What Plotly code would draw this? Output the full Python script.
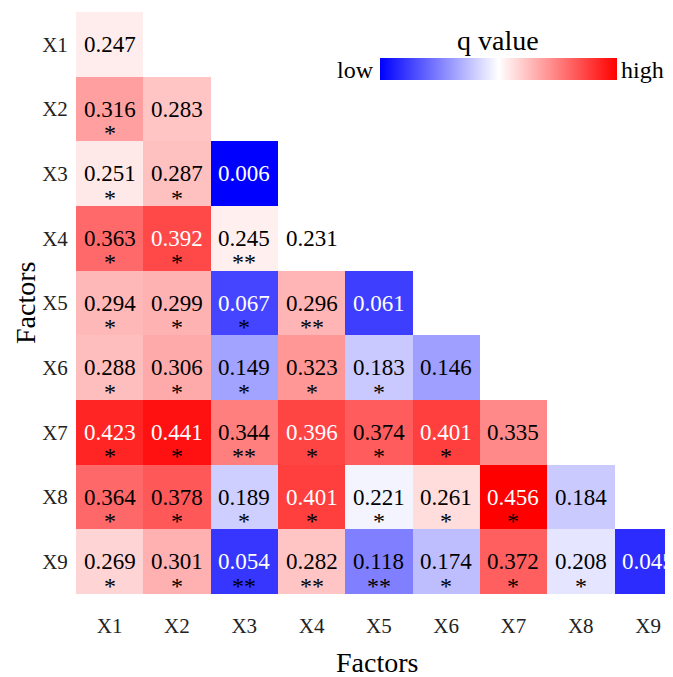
import plotly.graph_objects as go

factors = ["X1", "X2", "X3", "X4", "X5", "X6", "X7", "X8", "X9"]

row_X1 = [0.247]
row_X2 = [0.316, 0.283]
row_X3 = [0.251, 0.287, 0.006]
row_X4 = [0.363, 0.392, 0.245, 0.231]
row_X5 = [0.294, 0.299, 0.067, 0.296, 0.061]
row_X6 = [0.288, 0.306, 0.149, 0.323, 0.183, 0.146]
row_X7 = [0.423, 0.441, 0.344, 0.396, 0.374, 0.401, 0.335]
row_X8 = [0.364, 0.378, 0.189, 0.401, 0.221, 0.261, 0.456, 0.184]
row_X9 = [0.269, 0.301, 0.054, 0.282, 0.118, 0.174, 0.372, 0.208, 0.045]

sig_X1 = [""]
sig_X2 = ["*", ""]
sig_X3 = ["*", "*", ""]
sig_X4 = ["*", "*", "**", ""]
sig_X5 = ["*", "*", "*", "**", ""]
sig_X6 = ["*", "*", "*", "*", "*", ""]
sig_X7 = ["*", "*", "**", "*", "*", "*", ""]
sig_X8 = ["*", "*", "*", "*", "*", "*", "*", ""]
sig_X9 = ["*", "*", "**", "**", "**", "*", "*", "*", ""]

rows = [row_X1, row_X2, row_X3, row_X4, row_X5, row_X6, row_X7, row_X8, row_X9]
sigs = [sig_X1, sig_X2, sig_X3, sig_X4, sig_X5, sig_X6, sig_X7, sig_X8, sig_X9]

n = len(factors)
z = [r + [None] * (n - len(r)) for r in rows]
allv = [v for r in rows for v in r]
zmin, zmax = min(allv), max(allv)

# page body has an 8px margin; figure sized to fit the 673x677 window
OFF = 8
W, H = 673 - OFF, 677 - OFF
ml, mt, mb, mr = 76 - OFF, 12 - OFF, 83, 0
pw = W - ml - mr
ph = H - mt - mb
bottom = mt + ph  # figure px of plot bottom


def px(xs):  # screenshot x -> paper x
    return (xs - OFF - ml) / pw


def py(ys):  # screenshot y -> paper y
    return (bottom - (ys - OFF)) / ph


fig = go.Figure()
fig.add_trace(go.Heatmap(
    z=z, x=factors, y=factors,
    zmin=zmin, zmax=zmax,
    colorscale=[[0, "rgb(0,0,255)"], [0.5, "rgb(255,255,255)"], [1, "rgb(255,0,0)"]],
    hoverongaps=False,
    colorbar=dict(
        orientation="h",
        x=px(380), xanchor="left",
        y=py(58), yanchor="top",
        len=237, lenmode="pixels",
        thickness=22, thicknessmode="pixels",
        outlinewidth=0, showticklabels=False, ticks="",
        xpad=0, ypad=0,
    ),
))

serif = "Liberation Serif, Times New Roman, serif"
annotations = []
for i, (r, s) in enumerate(zip(rows, sigs)):
    for j, (v, st) in enumerate(zip(r, s)):
        col = "white" if (v >= 0.39 or v <= 0.07) else "black"
        annotations.append(dict(x=factors[j], y=factors[i], text=f"{v:.3f}",
                                showarrow=False, font=dict(family=serif, size=23, color=col)))
        if st:
            annotations.append(dict(x=factors[j], y=factors[i], text=st, yshift=-24,
                                    showarrow=False, font=dict(family=serif, size=24, color="black")))

# colorbar labels
annotations.append(dict(xref="paper", yref="paper", x=px(498), y=py(40),
                        xanchor="center", yanchor="middle",
                        text="q value", showarrow=False, font=dict(family=serif, size=28, color="black")))
annotations.append(dict(xref="paper", yref="paper", x=px(376), y=py(70),
                        xanchor="right", yanchor="middle", text="low", showarrow=False,
                        font=dict(family=serif, size=24, color="black")))
annotations.append(dict(xref="paper", yref="paper", x=px(619), y=py(70),
                        xanchor="left", yanchor="middle", text="high", showarrow=False,
                        font=dict(family=serif, size=24, color="black")))
# axis titles
annotations.append(dict(xref="paper", yref="paper", x=px(377), y=py(662),
                        xanchor="center", yanchor="middle", text="Factors", showarrow=False,
                        font=dict(family=serif, size=28, color="black")))
annotations.append(dict(xref="paper", yref="paper", x=px(25), y=py(303),
                        xanchor="center", yanchor="middle", text="Factors", showarrow=False,
                        textangle=-90, font=dict(family=serif, size=28, color="black")))

fig.update_layout(
    width=W, height=H,
    margin=dict(l=ml, r=mr, t=mt, b=mb, pad=0),
    paper_bgcolor="white", plot_bgcolor="white",
    annotations=annotations,
    font=dict(family=serif, color="black"),
)
fig.update_xaxes(
    range=[-0.5, 8.5 - 8.7 / 67.3],
    showgrid=False, zeroline=False, showline=False,
    ticks="outside", ticklen=13, tickcolor="rgba(0,0,0,0)",
    tickfont=dict(family=serif, size=21, color="#222"),
    automargin=False,
)
fig.update_yaxes(
    autorange="reversed",
    showgrid=False, zeroline=False, showline=False,
    ticks="outside", ticklen=3, tickcolor="rgba(0,0,0,0)",
    tickfont=dict(family=serif, size=21, color="#222"),
    automargin=False,
)

fig.write_html("out.html")
